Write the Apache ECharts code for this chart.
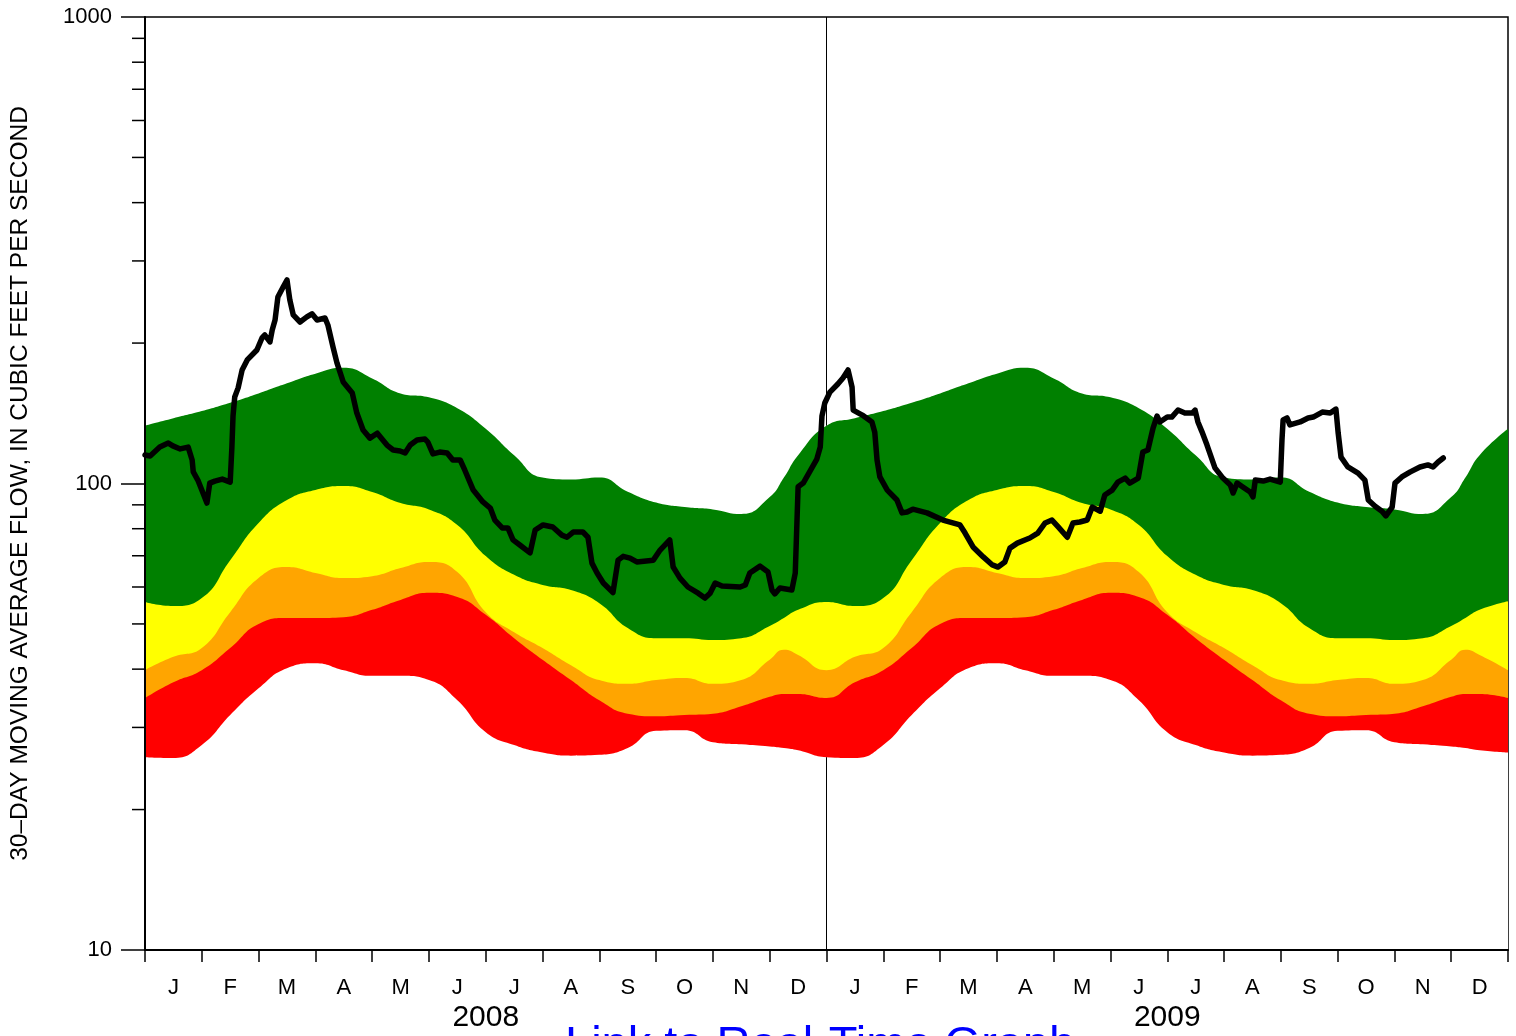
<!DOCTYPE html>
<html>
<head>
<meta charset="utf-8">
<title>30-day moving average flow</title>
<script src="https://cdn.jsdelivr.net/npm/echarts@6/dist/echarts.min.js"></script>
<style>
html, body { margin: 0; padding: 0; background: #fff; }
#chart { width: 1516px; height: 1036px; }
</style>
</head>
<body>
<div id="chart"></div>
<script>
// x position of every band point, in months since Jan 1 2008
const bandMonths = [0, 0.5, 1, 1.5, 2, 2.5, 3, 3.5, 4, 4.5, 5, 5.5, 6, 6.5, 7, 7.5, 8, 8.5, 9, 9.5, 10, 10.5, 11, 11.25, 11.5,
  12, 12.5, 13, 13.5, 14, 14.5, 15, 15.5, 16, 16.5, 17, 17.5, 18, 18.5, 19, 19.5, 20, 20.5, 21, 21.5, 22, 22.5, 23, 23.25, 23.5, 24]

// percentile class boundaries (cfs)
const greenTop = [133, 138, 143, 149, 156, 164, 172, 177, 168, 156, 153, 145, 131, 115, 103, 102, 103, 96, 91, 89, 88, 86, 93.5, 103, 115,
  133, 138, 143, 149, 156, 164, 172, 177, 168, 156, 153, 145, 131, 115, 103, 102, 103, 96, 91, 89, 88, 86, 93.5, 103, 115, 131]
const yellowTop = [55.7, 54.6, 56.8, 68.5, 82.3, 92.2, 96.9, 98.8, 95.9, 90.8, 88, 81.5, 69.9, 63.7, 60.6, 59.1, 55.4, 49, 46.6, 46.6, 46.2, 46.6, 49.5, 51.5, 53.6,
  55.7, 54.6, 56.8, 68.5, 82.3, 92.2, 96.9, 98.8, 95.9, 90.8, 88, 81.5, 69.9, 63.7, 60.6, 59.1, 55.4, 49, 46.6, 46.6, 46.2, 46.6, 49.5, 51.5, 53.6, 55.9]
const orangeTop = [39.8, 42.5, 44.4, 53, 62.7, 66.2, 64.3, 62.7, 63.3, 65.9, 67.9, 64.6, 53, 48, 44.4, 40.8, 37.9, 37.2, 37.9, 38.3, 37.2, 37.9, 41.9, 44, 42.9,
  39.8, 42.5, 44.4, 53, 62.7, 66.2, 64.3, 62.7, 63.3, 65.9, 67.9, 64.6, 53, 48, 44.4, 40.8, 37.9, 37.2, 37.9, 38.3, 37.2, 37.9, 41.9, 44, 42.9, 39.8]
const redTop = [34.7, 37.5, 39.8, 44.4, 50, 51.5, 51.5, 51.7, 53.6, 56.3, 58.3, 57.1, 52.3, 46.6, 41.9, 37.9, 34.3, 32.1, 31.7, 31.9, 32.1, 33.3, 34.9, 35.4, 35.4,
  34.7, 37.5, 39.8, 44.4, 50, 51.5, 51.5, 51.7, 53.6, 56.3, 58.3, 57.1, 52.3, 46.6, 41.9, 37.9, 34.3, 32.1, 31.7, 31.9, 32.1, 33.3, 34.9, 35.4, 35.4, 34.7]
const redBottom = [25.9, 25.8, 27.5, 31.9, 36.4, 40.2, 41.2, 39.8, 38.7, 38.7, 37.9, 34.3, 29.3, 27.5, 26.5, 26.1, 26.2, 27.1, 29.5, 29.6, 27.9, 27.6, 27.3, 27.1, 26.8,
  25.9, 25.8, 27.5, 31.9, 36.4, 40.2, 41.2, 39.8, 38.7, 38.7, 37.9, 34.3, 29.3, 27.5, 26.5, 26.1, 26.2, 27.1, 29.5, 29.6, 27.9, 27.6, 27.3, 27.1, 26.8, 26.5]

// 30-day moving average flow
const flowMonths = [0, 0.09, 0.26, 0.41, 0.49, 0.62, 0.76, 0.83, 0.85, 0.93, 1.00, 1.09, 1.14, 1.23, 1.36, 1.50, 1.53, 1.55, 1.58, 1.64,
  1.71, 1.80, 1.97, 2.06, 2.11, 2.20, 2.24, 2.29, 2.34, 2.43, 2.50, 2.55, 2.61, 2.73, 2.85, 2.94, 3.03, 3.17, 3.22, 3.31,
  3.38, 3.49, 3.65, 3.73, 3.84, 3.96, 4.09, 4.26, 4.37, 4.49, 4.58, 4.67, 4.79, 4.93, 4.98, 5.07, 5.19, 5.32, 5.42, 5.55,
  5.63, 5.78, 5.95, 6.08, 6.16, 6.29, 6.39, 6.48, 6.60, 6.78, 6.87, 7.01, 7.18, 7.34, 7.43, 7.54, 7.71, 7.80, 7.87, 7.96,
  8.07, 8.24, 8.33, 8.42, 8.54, 8.66, 8.95, 9.07, 9.24, 9.30, 9.42, 9.56, 9.74, 9.86, 9.95, 10.04, 10.16, 10.48, 10.57, 10.65,
  10.83, 10.97, 11.04, 11.09, 11.18, 11.39, 11.45, 11.50, 11.59, 11.71, 11.83, 11.89, 11.92, 11.97, 12.06, 12.20, 12.29, 12.38, 12.45, 12.47,
  12.63, 12.80, 12.85, 12.89, 12.94, 13.07, 13.24, 13.33, 13.42, 13.52, 13.77, 14.05, 14.35, 14.44, 14.58, 14.76, 14.92, 15.02, 15.14, 15.23,
  15.36, 15.58, 15.72, 15.85, 15.97, 16.08, 16.24, 16.34, 16.46, 16.59, 16.68, 16.82, 16.90, 17.03, 17.13, 17.26, 17.34, 17.49, 17.57, 17.66,
  17.75, 17.82, 17.87, 18.00, 18.08, 18.19, 18.31, 18.44, 18.49, 18.54, 18.61, 18.70, 18.84, 18.98, 19.11, 19.16, 19.23, 19.33, 19.46, 19.51,
  19.55, 19.69, 19.81, 19.99, 20.02, 20.04, 20.11, 20.16, 20.34, 20.48, 20.57, 20.73, 20.87, 20.97, 21.01, 21.06, 21.18, 21.36, 21.48, 21.54,
  21.66, 21.78, 21.85, 21.96, 22.01, 22.13, 22.28, 22.45, 22.59, 22.68, 22.77, 22.86]
const flow = [115.1, 114.5, 119.7, 122.1, 120.4, 118.6, 119.7, 112.3, 105.9, 101.7, 96.8, 90.8, 100.2, 101.2, 102.2, 100.7, 119.7, 139.5, 153.2, 160.3,
  175.1, 184, 193.3, 205.1, 208.1, 201.1, 213.3, 224.1, 251.1, 263.4, 273.1, 247.4, 229.8, 221.9, 227.6, 231.1, 224.1, 226.3, 218.7, 196.2,
  181.3, 165.1, 156.3, 141.6, 130.2, 125.1, 128.2, 120.9, 118, 117.4, 116.3, 120.9, 123.9, 124.5, 122.7, 115.7, 116.8, 116.3, 112.3, 112.3,
  106.9, 96.8, 91.3, 88.6, 83.5, 80.3, 80.3, 75.7, 73.8, 71, 79.5, 81.5, 80.7, 77.5, 76.7, 78.7, 78.7, 76.7, 67.5, 64.3,
  61.2, 58.4, 68.5, 69.8, 69.2, 67.9, 68.5, 72, 75.7, 66.2, 62.7, 60, 58.2, 56.8, 58.2, 61.2, 60.3, 60, 60.6, 64.3,
  66.5, 64.6, 59.1, 58, 59.7, 59.1, 64.3, 98.4, 100.2, 106.3, 112.8, 119.7, 139.5, 148.8, 157, 163.4, 168.4, 175.1, 161, 143.7,
  140.2, 135.5, 128.8, 112.3, 103.3, 96.8, 92.2, 86.5, 86.9, 88.1, 86.5, 83.5, 81.5, 78.3, 73.1, 69.6, 66.9, 66.2, 67.9, 72.7,
  74.5, 76.4, 78.3, 82.3, 83.5, 80.7, 76.7, 82.3, 82.7, 83.5, 89, 87.2, 94.5, 96.8, 100.7, 102.7, 100.2, 102.7, 116.8, 118,
  131.5, 139.5, 135.5, 138.8, 138.8, 143.7, 141.6, 141.6, 143.7, 135.5, 129.2, 120.9, 108, 102.7, 99.3, 95.4, 100.2, 98.3, 95.9, 93.6,
  101.7, 101.2, 102.2, 100.7, 123.9, 136.8, 138.2, 133.5, 135.5, 138.2, 138.8, 142.3, 141.6, 144.4, 128.2, 113.9, 108.5, 105.3, 101.7, 92.2,
  89.4, 87.2, 85.2, 89, 100.2, 103.3, 105.9, 108.5, 109.6, 108.5, 111.2, 113.4]

const monthLabels = ['J', 'F', 'M', 'A', 'M', 'J', 'J', 'A', 'S', 'O', 'N', 'D', 'J', 'F', 'M', 'A', 'M', 'J', 'J', 'A', 'S', 'O', 'N', 'D']
const yearLabels = ['2008', '2009']
const minorTickValues = [20, 30, 40, 50, 60, 70, 80, 90, 200, 300, 400, 500, 600, 700, 800, 900]

const font = 'Liberation Sans, Arial, sans-serif'
// painted from the top boundary down to the axis, each one over the last;
// the white one clears everything under the red band
const bandTops = [greenTop, yellowTop, orangeTop, redTop, redBottom]
const bandColors = ['#008000', '#ffff00', '#ffa500', '#ff0000', '#ffffff']

let chart = echarts.init(document.getElementById('chart'))

const yearStart = bandMonths.indexOf(12)

const bandSeries = bandTops.map((top, b) => {
  const s = {
    type: 'line',
    smooth: 0.5,
    symbol: 'none',
    silent: true,
    z: 2,
    lineStyle: {width: 0},
    areaStyle: {color: bandColors[b], opacity: 1, origin: 'start'},
    data: bandMonths.map((t, i) => [t, top[i]])
  }
  if (b === bandTops.length - 1) {
    // year divider, only visible above and below the bands
    s.z = 3
    s.markLine = {
      silent: true,
      symbol: ['none', 'none'],
      label: {show: false},
      lineStyle: {color: '#000', width: 1, type: 'solid'},
      data: [
        [{coord: [12, 10]}, {coord: [12, redBottom[yearStart]]}],
        [{coord: [12, greenTop[yearStart]]}, {coord: [12, 1000]}]
      ]
    }
  }
  return s
})

const option = {
  animation: false,
  backgroundColor: '#fff',
  grid: {
    left: 145, right: 8, top: 17, bottom: 86,
    show: true, borderColor: '#000', borderWidth: 1.5, backgroundColor: 'transparent'
  },
  xAxis: [
    {type: 'value', min: 0, max: 24, position: 'bottom', show: false},
    {
      type: 'category',
      position: 'bottom',
      z: 10,
      data: monthLabels,
      boundaryGap: true,
      axisLine: {lineStyle: {color: '#000', width: 2}},
      axisTick: {show: true, interval: 0, length: 12, lineStyle: {color: '#000', width: 1.5}},
      axisLabel: {interval: 0, color: '#000', fontSize: 22, fontFamily: font, margin: 27},
      splitLine: {show: false}
    },
    {
      type: 'category',
      position: 'bottom',
      data: yearLabels,
      axisLine: {show: false},
      axisTick: {show: false},
      axisLabel: {color: '#000', fontSize: 30, fontFamily: font, margin: 53},
      splitLine: {show: false}
    }
  ],
  yAxis: {
    type: 'log',
    logBase: 10,
    min: 10,
    max: 1000,
    z: 10,
    name: '30\u2013DAY MOVING AVERAGE FLOW, IN CUBIC FEET PER SECOND',
    nameLocation: 'middle',
    nameGap: 112,
    nameRotate: 90,
    nameTextStyle: {color: '#000', fontSize: 24.5, fontFamily: font},
    axisLine: {show: true, lineStyle: {color: '#000', width: 2}},
    axisTick: {show: true, length: 24, lineStyle: {color: '#000', width: 1.5}},
    axisLabel: {color: '#000', fontSize: 22, fontFamily: font, margin: 33, formatter: v => String(v)},
    splitLine: {show: false}
  },
  graphic: [{
    type: 'text',
    left: 565,
    top: 1023,
    style: {text: 'Link to Real-Time Graph', fill: '#0000ff', font: '47px ' + font}
  }],
  series: [
    ...bandSeries,
    {
      type: 'line',
      symbol: 'none',
      z: 5,
      lineStyle: {color: '#000', width: 5.5, cap: 'round', join: 'round'},
      data: flowMonths.map((t, i) => [t, flow[i]])
    },
    {
      // minor ticks of the log axis
      type: 'custom',
      clip: false,
      silent: true,
      z: 6,
      data: minorTickValues.map(v => [0, v]),
      renderItem: function (params, api) {
        const p = api.coord([0, api.value(1)])
        return {
          type: 'line',
          shape: {x1: p[0] - 13, y1: p[1], x2: p[0], y2: p[1]},
          style: {stroke: '#000', lineWidth: 1.5}
        }
      }
    }
  ]
}

chart.setOption(option)
</script>
</body>
</html>
